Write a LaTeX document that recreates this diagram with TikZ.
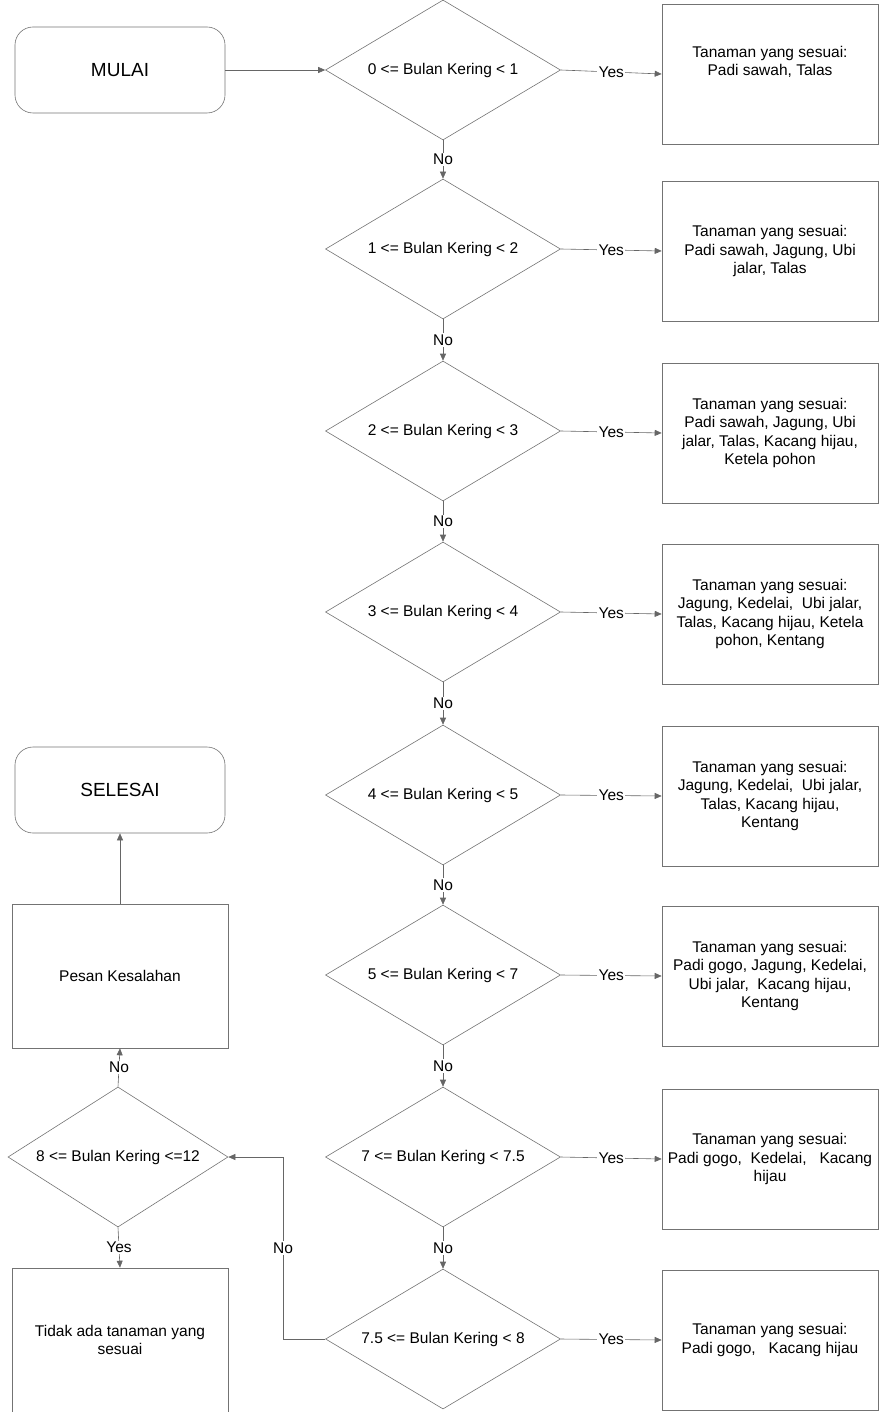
\documentclass[tikz,border=0pt]{standalone}
\usepackage{fontspec}
\setmainfont{Liberation Sans}
\usetikzlibrary{shapes.geometric,arrows.meta}
\tikzset{
  ln/.style={draw=black!55, line width=0.6pt},
  txt/.style={font=\fontsize{15.5}{18.5}\selectfont, text=black},
  dec/.style={ln, txt, diamond, shape aspect=1.7, inner sep=0pt, minimum width=235pt, minimum height=140pt},
  decs/.style={dec, minimum width=220pt},
  outbox/.style={ln, txt, rectangle, minimum width=216pt, minimum height=140pt, align=center, inner sep=0pt},
  term/.style={ln, rectangle, rounded corners=18pt, minimum width=210pt, minimum height=86pt, font=\fontsize{19}{22}\selectfont},
  arr/.style={draw=black!60, line width=0.6pt, -{Triangle[length=7pt,width=6pt]}},
  lbl/.style={txt, fill=white, inner sep=1.5pt},
}
\begin{document}
\begin{tikzpicture}[x=1pt,y=-1pt]
\useasboundingbox (0,0) rectangle (892,1412);
% terminators
\node[term] (mulai) at (120,70) {MULAI};
\node[term] (selesai) at (120,790) {SELESAI};
% decisions
\node[dec] (d1) at (443,70) {0 <= Bulan Kering < 1};
\node[dec] (d2) at (443,249) {1 <= Bulan Kering < 2};
\node[dec] (d3) at (443,431) {2 <= Bulan Kering < 3};
\node[dec] (d4) at (443,612) {3 <= Bulan Kering < 4};
\node[dec] (d5) at (443,795) {4 <= Bulan Kering < 5};
\node[dec] (d6) at (443,975) {5 <= Bulan Kering < 7};
\node[dec] (d7) at (443,1157) {7 <= Bulan Kering < 7.5};
\node[dec] (d8) at (443,1339) {7.5 <= Bulan Kering < 8};
\node[decs] (d9) at (118,1157) {8 <= Bulan Kering <=12};
% result boxes
\node[outbox] (b1) at (770,74) {Tanaman yang sesuai:\\ Padi sawah, Talas\\[8pt]};
\node[outbox] (b2) at (770,251) {Tanaman yang sesuai:\\ Padi sawah, Jagung, Ubi\\ jalar, Talas};
\node[outbox] (b3) at (770,433) {Tanaman yang sesuai:\\ Padi sawah, Jagung, Ubi\\ jalar, Talas, Kacang hijau,\\ Ketela pohon};
\node[outbox] (b4) at (770,614) {Tanaman yang sesuai:\\ Jagung, Kedelai,\ \ Ubi jalar,\\ Talas, Kacang hijau, Ketela\\ pohon, Kentang};
\node[outbox] (b5) at (770,796) {Tanaman yang sesuai:\\ Jagung, Kedelai,\ \ Ubi jalar,\\ Talas, Kacang hijau,\\ Kentang};
\node[outbox] (b6) at (770,976) {Tanaman yang sesuai:\\ Padi gogo, Jagung, Kedelai,\\ Ubi jalar,\ \ Kacang hijau,\\ Kentang};
\node[outbox] (b7) at (770,1159) {Tanaman yang sesuai:\\ Padi gogo,\ \ Kedelai,\ \ \ Kacang\\ hijau};
\node[outbox] (b8) at (770,1340) {Tanaman yang sesuai:\\ Padi gogo,\ \ \ Kacang hijau};
% left boxes
\node[outbox, minimum height=144pt] (pesan) at (120,976) {Pesan Kesalahan};
\node[outbox, minimum height=144pt] (tidak) at (120,1340) {Tidak ada tanaman yang\\ sesuai};
% connectors
\draw[arr] (mulai.east) -- (d1.west);
\foreach \i in {1,...,8} {
  \draw[arr] (d\i.east) -- node[lbl] {Yes} (b\i.west);
}
\foreach \i/\j in {1/2,2/3,3/4,4/5,5/6,6/7,7/8} {
  \draw[arr] (d\i.south) -- node[lbl] {No} (d\j.north);
}
\coordinate (c1) at (283,1339);
\coordinate (c2) at (283,1157);
\draw[arr] (d8.west) -- (c1) -- node[lbl] {No} (c2) -- (d9.east);
\draw[arr] (d9.south) -- node[lbl] {Yes} (tidak.north);
\draw[arr] (d9.north) -- node[lbl] {No} (pesan.south);
\draw[arr] (pesan.north) -- (selesai.south);
\end{tikzpicture}
\end{document}
